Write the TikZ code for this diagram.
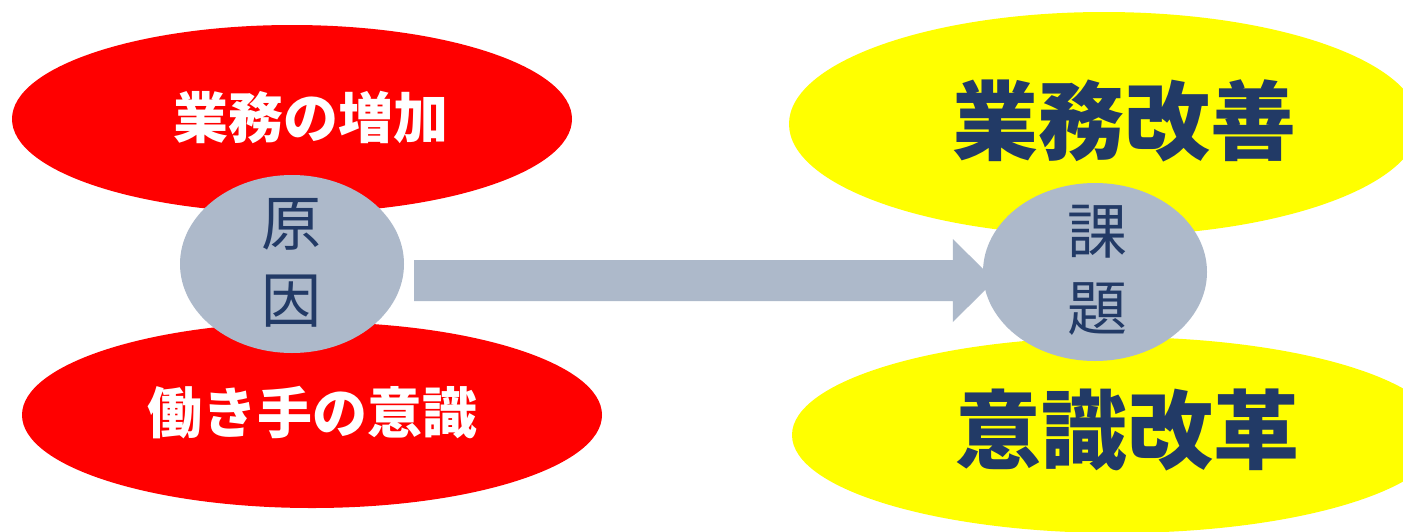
\documentclass[tikz,border=0pt]{standalone}
\usepackage{fontspec}
\setmainfont{Noto Sans CJK JP}
\usetikzlibrary{shapes.geometric,calc}
\pgfdeclarelayer{front}
\pgfsetlayers{main,front}
\definecolor{redfill}{HTML}{FF0000}
\definecolor{yellowfill}{HTML}{FFFF00}
\definecolor{grayfill}{HTML}{ADB9CA}
\definecolor{navy}{HTML}{223A66}
\tikzset{
  blob/.style={ellipse, draw=none, inner sep=0pt},
  redblob/.style={blob, fill=redfill},
  yellowblob/.style={blob, fill=yellowfill},
  hub/.style={blob, fill=grayfill, minimum width=224pt, minimum height=178pt},
  hubtext/.style={inner sep=0pt, text=navy, align=center, font=\fontsize{60}{77}\selectfont},
  whitetext/.style={inner sep=0pt, text=white, font=\bfseries\fontsize{55}{60}\selectfont},
  bigtext/.style={inner sep=0pt, text=navy, font=\bfseries\fontsize{86}{90}\selectfont},
}
\begin{document}
\begin{tikzpicture}[x=1pt,y=-1pt]
\clip (0,0) rectangle (1403,531);
\fill[white] (0,0) rectangle (1403,531);
% left side
\node[redblob, minimum width=560pt, minimum height=188pt] (inc) at (292,119) {};
\node[redblob, minimum width=580pt, minimum height=186pt] (mind) at (312,415) {};
\node[hub] (cause) at (292,264) {};
\node[whitetext] (inct) at (311,117) {業務の増加};
\node[whitetext] (mindt) at (312,413) {働き手の意識};
\node[hubtext] (causet) at (291,263) {原\\因};
% right side
\node[yellowblob, minimum width=630pt, minimum height=224pt] (impr) at (1104,124) {};
\node[yellowblob, minimum width=650pt, minimum height=196pt] (reform) at (1117,435) {};
\node[bigtext] (imprt) at (1124,121) {業務改善};
\node[bigtext] (reformt) at (1127,430) {意識改革};
\begin{pgfonlayer}{front}
\node[hub] (issue) at (1095,272) {};
\node[hubtext] (issuet) at (1097,270) {課\\題};
\end{pgfonlayer}
% arrow from cause to issue
\coordinate (s) at ($(cause.east)+(10,16.5)$);
\coordinate (t) at ($(issue.west)+(12,8.5)$);
\fill[grayfill] ($(s)+(0,-20.5)$) -- ($(t)+(-42,-20.5)$) -- ($(t)+(-42,-41.5)$) -- (t)
  -- ($(t)+(-42,41.5)$) -- ($(t)+(-42,20.5)$) -- ($(s)+(0,20.5)$) -- cycle;
\end{tikzpicture}
\end{document}
